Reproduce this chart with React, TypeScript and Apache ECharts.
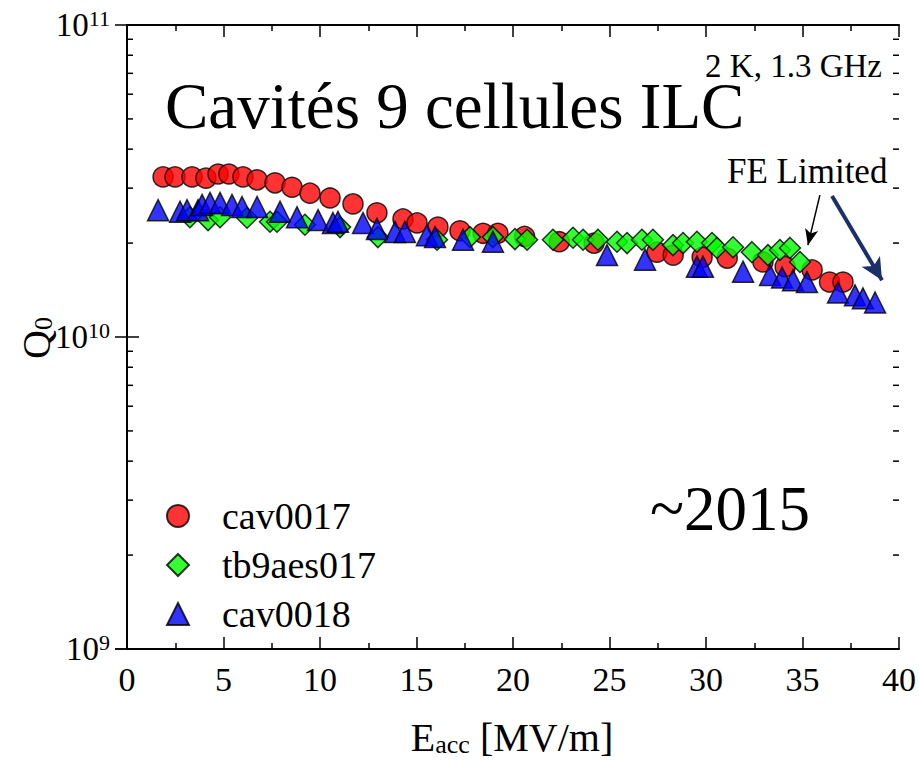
import React, { useEffect, useRef } from "react";
import * as echarts from "echarts";

const FONT = "'Liberation Serif', 'Times New Roman', serif";

const cav0017: [number, number][] = [
  [1.87, 3.26e10], [2.49, 3.26e10], [3.37, 3.26e10], [4.09, 3.23e10], [4.72, 3.33e10],
  [5.28, 3.33e10], [6.01, 3.26e10], [6.74, 3.19e10], [7.67, 3.12e10], [8.55, 3.02e10],
  [9.48, 2.89e10], [10.52, 2.79e10], [11.71, 2.67e10], [12.95, 2.5e10], [14.3, 2.39e10],
  [15.03, 2.32e10], [16.11, 2.25e10], [17.25, 2.19e10], [18.45, 2.15e10], [19.22, 2.15e10],
  [20.6, 2.1e10], [22.4, 2.02e10], [24.2, 2.0e10], [27.46, 1.87e10], [28.3, 1.83e10],
  [29.8, 1.8e10], [31.1, 1.79e10], [32.95, 1.74e10], [34.1, 1.68e10], [35.5, 1.64e10],
  [36.4, 1.5e10], [37.1, 1.5e10],
];

const tb9aes017: [number, number][] = [
  [3.26, 2.42e10], [4.2, 2.37e10], [4.82, 2.42e10], [6.22, 2.41e10], [7.41, 2.34e10],
  [7.77, 2.34e10], [9.22, 2.29e10], [11.04, 2.25e10], [13.0, 2.09e10], [16.06, 2.05e10],
  [17.77, 2.09e10], [18.96, 2.09e10], [20.1, 2.06e10], [20.73, 2.05e10], [22.07, 2.05e10],
  [23.11, 2.08e10], [23.63, 2.05e10], [24.4, 2.05e10], [25.39, 2.02e10], [25.91, 2.0e10],
  [26.68, 2.05e10], [27.25, 2.05e10], [28.29, 1.97e10], [28.81, 2.0e10], [29.53, 2.02e10],
  [30.31, 2.0e10], [30.57, 1.93e10], [31.4, 1.94e10], [32.38, 1.87e10], [33.21, 1.83e10],
  [33.83, 1.9e10], [34.35, 1.93e10], [34.87, 1.74e10],
];

const cav0018: [number, number][] = [
  [1.61, 2.55e10], [2.75, 2.52e10], [3.11, 2.55e10], [3.68, 2.55e10], [3.89, 2.65e10],
  [4.3, 2.69e10], [4.82, 2.69e10], [5.44, 2.65e10], [5.96, 2.61e10], [6.74, 2.61e10],
  [7.93, 2.52e10], [8.81, 2.42e10], [9.9, 2.37e10], [10.67, 2.32e10], [10.93, 2.34e10],
  [12.23, 2.32e10], [12.95, 2.22e10], [13.89, 2.17e10], [14.4, 2.17e10], [15.54, 2.12e10],
  [15.96, 2.09e10], [17.41, 2.05e10], [18.96, 2.02e10], [24.87, 1.83e10], [26.84, 1.77e10],
  [29.53, 1.68e10], [29.84, 1.68e10], [31.92, 1.62e10], [33.32, 1.58e10], [33.94, 1.55e10],
  [34.51, 1.52e10], [35.23, 1.5e10], [36.84, 1.39e10], [37.72, 1.36e10], [38.13, 1.33e10],
  [38.76, 1.29e10],
];

const minorYTicks: number[] = [
  2e9, 3e9, 4e9, 5e9, 6e9, 7e9, 8e9, 9e9, 2e10, 3e10, 4e10, 5e10, 6e10, 7e10, 8e10, 9e10,
];

// annotation arrows in data coordinates
const feArrowThin: [number, number][] = [[35.9, 2.85e10], [35.28, 1.97e10]];
const feArrowThick: [number, number][] = [[36.53, 2.83e10], [39.12, 1.52e10]];

const xTickLabels = ["0", "5", "10", "15", "20", "25", "30", "35", "40"];

export default function App() {
  const ref = useRef<HTMLDivElement>(null);
  useEffect(() => {
    if (!ref.current) return;
    const chart = echarts.init(ref.current, undefined, { renderer: "svg" });
    const axisLine = { show: true, lineStyle: { color: "#000", width: 2 } };
    const markerBorder = { borderColor: "#000", borderWidth: 1.5 };
    chart.setOption({
      animation: false,
      backgroundColor: "#fff",
      textStyle: { fontFamily: FONT, color: "#000" },
      grid: { left: 127, right: 20, top: 25, bottom: 113 },
      legend: {
        orient: "vertical",
        left: 161,
        top: 492,
        itemWidth: 22,
        itemHeight: 22,
        itemGap: 11,
        data: ["cav0017", "tb9aes017", "cav0018"],
        textStyle: {
          fontFamily: FONT,
          fontSize: 38,
          lineHeight: 38,
          color: "#000",
          padding: [0, 0, 0, 28],
        },
      },
      xAxis: [
        {
          type: "value",
          min: 0,
          max: 40,
          interval: 5,
          position: "bottom",
          axisLine,
          splitLine: { show: false },
          axisTick: { inside: true, length: 12, lineStyle: { color: "#000", width: 1.5 } },
          minorTick: { show: true, splitNumber: 2, length: 6, lineStyle: { color: "#000", width: 1.5 } },
          axisLabel: {
            fontFamily: FONT,
            fontSize: 34,
            color: "#000",
            margin: 13,
            formatter: (v: number) => xTickLabels[Math.round(v / 5)] ?? String(v),
          },
        },
        {
          type: "value",
          min: 0,
          max: 40,
          interval: 5,
          position: "top",
          axisLine,
          splitLine: { show: false },
          axisTick: { inside: true, length: 12, lineStyle: { color: "#000", width: 1.5 } },
          minorTick: { show: true, splitNumber: 2, length: 6, lineStyle: { color: "#000", width: 1.5 } },
          axisLabel: { show: false },
        },
      ],
      yAxis: [
        {
          type: "log",
          logBase: 10,
          min: 1e9,
          max: 1e11,
          position: "left",
          axisLine,
          splitLine: { show: false },
          axisTick: { inside: true, length: 12, lineStyle: { color: "#000", width: 1.5 } },
          axisLabel: {
            margin: 17,
            color: "#000",
            fontFamily: FONT,
            formatter: (v: number) => `{b|10}{s|${Math.round(Math.log10(v))}}`,
            rich: {
              b: { fontFamily: FONT, fontSize: 33, color: "#000" },
              s: { fontFamily: FONT, fontSize: 22, color: "#000", verticalAlign: "top", padding: [0, 0, 14, 0] },
            },
          },
        },
        {
          type: "log",
          logBase: 10,
          min: 1e9,
          max: 1e11,
          position: "right",
          axisLine,
          splitLine: { show: false },
          axisTick: { inside: true, length: 12, lineStyle: { color: "#000", width: 1.5 } },
          axisLabel: { show: false },
        },
      ],
      series: [
        {
          type: "custom",
          name: "minorTicks",
          silent: true,
          clip: false,
          data: minorYTicks.map((v) => [0, v]),
          encode: { x: 0, y: 1 },
          renderItem: (_p: any, api: any) => {
            const v = api.value(1);
            const l = api.coord([0, v]);
            const r = api.coord([40, v]);
            const st = { stroke: "#000", lineWidth: 1.5 };
            return {
              type: "group",
              children: [
                { type: "line", shape: { x1: l[0], y1: l[1], x2: l[0] + 6, y2: l[1] }, style: st },
                { type: "line", shape: { x1: r[0] - 6, y1: r[1], x2: r[0], y2: r[1] }, style: st },
              ],
            };
          },
        },
        {
          type: "scatter",
          name: "cav0017",
          symbol: "circle",
          symbolSize: 20,
          data: cav0017,
          itemStyle: { color: "#ff0000", ...markerBorder },
          markLine: {
            silent: true,
            symbol: ["none", "arrow"],
            label: { show: false },
            data: [
              [
                { coord: feArrowThin[0], symbol: "none", lineStyle: { color: "#000", width: 1.5, type: "solid" } },
                { coord: feArrowThin[1], symbol: "arrow", symbolSize: [10, 16] },
              ],
              [
                { coord: feArrowThick[0], symbol: "none", lineStyle: { color: "#1b2f6b", width: 4, type: "solid" } },
                { coord: feArrowThick[1], symbol: "arrow", symbolSize: [16, 22] },
              ],
            ],
          },
        },
        {
          type: "scatter",
          name: "tb9aes017",
          symbol: "diamond",
          symbolSize: 21,
          data: tb9aes017,
          itemStyle: { color: "#00ff00", ...markerBorder },
        },
        {
          type: "scatter",
          name: "cav0018",
          symbol: "triangle",
          symbolSize: 21,
          data: cav0018,
          itemStyle: { color: "#0000ff", ...markerBorder },
        },
      ],
      graphic: [
        {
          type: "text",
          left: 165,
          top: 73,
          style: { text: "Cavités 9 cellules ILC", fontFamily: FONT, fontSize: 65, lineHeight: 46, fill: "#000" },
        },
        {
          type: "text",
          left: 650,
          top: 477,
          style: { text: "~2015", fontFamily: FONT, fontSize: 63, fill: "#000" },
        },
        {
          type: "text",
          right: 37,
          top: 49,
          style: { text: "2 K, 1.3 GHz", fontFamily: FONT, fontSize: 33, lineHeight: 23, fill: "#000" },
        },
        {
          type: "text",
          left: 727,
          top: 154,
          style: { text: "FE Limited", fontFamily: FONT, fontSize: 35, fill: "#000" },
        },
        {
          type: "text",
          x: 512,
          y: 737,
          style: {
            text: "{e|E}{s|acc}{e| [MV/m]}",
            align: "center",
            verticalAlign: "middle",
            fontFamily: FONT,
            rich: {
              e: { fontFamily: FONT, fontSize: 40, fill: "#000", color: "#000" },
              s: { fontFamily: FONT, fontSize: 26, fill: "#000", color: "#000", verticalAlign: "bottom", padding: [10, 0, 0, 0] },
            },
          },
        },
        {
          type: "text",
          x: 36,
          y: 338,
          rotation: Math.PI / 2,
          style: {
            text: "{q|Q}{s|0}",
            align: "center",
            verticalAlign: "middle",
            fontFamily: FONT,
            rich: {
              q: { fontFamily: FONT, fontSize: 40, fill: "#000", color: "#000" },
              s: { fontFamily: FONT, fontSize: 26, fill: "#000", color: "#000", verticalAlign: "bottom", padding: [10, 0, 0, 0] },
            },
          },
        },
      ],
    });
    return () => chart.dispose();
  }, []);
  return (
    <div
      ref={ref}
      style={{ position: "fixed", left: 0, top: 0, width: 919, height: 762 }}
    />
  );
}
